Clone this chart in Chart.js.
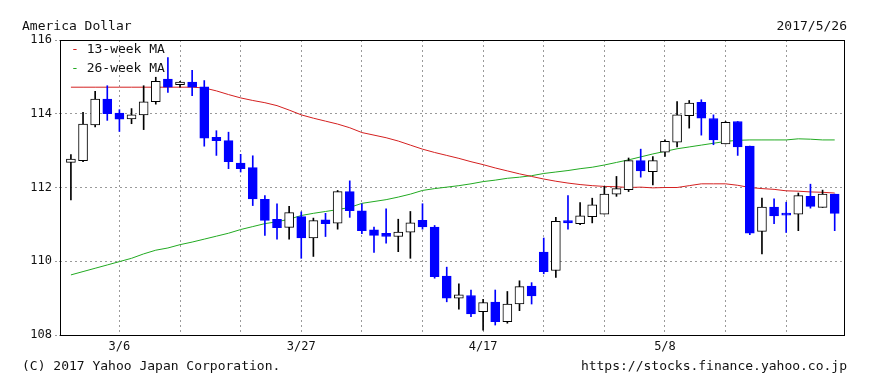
<!DOCTYPE html>
<html><head><meta charset="utf-8">
<script src="https://cdn.jsdelivr.net/npm/chart.js@4.4.1/dist/chart.umd.min.js"></script>
<style>
html,body{margin:0;padding:0;background:#fff;}
#wrap{position:relative;width:870px;height:386px;font-family:"DejaVu Sans Mono","Liberation Mono",monospace;font-size:13px;color:#111;}
canvas{position:absolute;left:0;top:0;}
.t{position:absolute;white-space:pre;line-height:14px;}
</style></head><body>
<div id="wrap">
<canvas id="c" width="870" height="386"></canvas>
<div class="t" style="left:22px;top:19px">America Dollar</div>
<div class="t" style="right:23px;top:19px">2017/5/26</div>
<div class="t" style="left:71px;top:42px"><span style="color:#d42020">-</span> 13-week MA</div>
<div class="t" style="left:71px;top:61px"><span style="color:#22aa22">-</span> 26-week MA</div>
<div class="t" style="left:22px;top:359px">(C) 2017 Yahoo Japan Corporation.</div>
<div class="t" style="right:23px;top:359px">https://stocks.finance.yahoo.co.jp</div>
</div>
<script>
const dates = ['2/28','3/1','3/2','3/3','3/6','3/7','3/8','3/9','3/10','3/13','3/14','3/15','3/16','3/17','3/20','3/21','3/22','3/23','3/24','3/27','3/28','3/29','3/30','3/31','4/3','4/4','4/5','4/6','4/7','4/10','4/11','4/12','4/13','4/14','4/17','4/18','4/19','4/20','4/21','4/24','4/25','4/26','4/27','4/28','5/1','5/2','5/3','5/4','5/5','5/8','5/9','5/10','5/11','5/12','5/15','5/16','5/17','5/18','5/19','5/22','5/23','5/24','5/25','5/26'];
const openV = [112.68,112.73,113.70,114.40,114.02,113.86,113.97,114.33,114.94,114.79,114.86,114.73,113.36,113.27,112.66,112.54,111.68,111.14,110.92,111.21,110.63,111.12,111.03,111.89,111.37,110.85,110.76,110.67,110.79,111.11,110.93,109.60,109.00,109.07,108.63,108.89,108.36,108.84,109.33,110.25,109.75,111.10,111.02,111.21,111.28,111.82,111.94,112.73,112.43,112.96,113.23,113.95,114.31,113.87,113.18,113.79,113.12,110.81,111.47,111.29,111.28,111.76,111.46,111.82];
const closeV = [112.77,113.72,114.40,114.00,113.85,113.97,114.32,114.88,114.72,114.86,114.72,113.34,113.27,112.70,112.51,111.69,111.11,110.91,111.32,110.63,111.10,111.02,111.89,111.37,110.83,110.70,110.67,110.79,111.04,110.93,109.58,109.00,109.09,108.57,108.88,108.36,108.84,109.31,109.06,109.72,111.08,111.04,111.23,111.53,111.82,111.97,112.73,112.45,112.73,113.25,113.97,114.29,113.88,113.29,113.77,113.10,110.76,111.47,111.23,111.25,111.78,111.49,111.82,111.30];
const highV = [112.89,114.04,114.61,114.76,114.11,114.14,114.76,114.99,115.52,114.88,115.18,114.90,113.54,113.50,112.90,112.86,111.78,111.56,111.49,111.34,111.17,111.30,111.92,112.18,111.56,110.93,111.42,111.14,111.35,111.56,110.97,109.84,109.39,109.22,108.97,109.22,109.18,109.47,109.42,110.63,111.19,111.78,111.59,111.71,112.03,112.30,112.80,113.04,112.84,113.29,114.33,114.36,114.38,113.97,113.79,113.79,113.12,111.71,111.69,111.60,111.85,112.09,111.93,111.82];
const lowV = [111.66,112.70,113.64,113.82,113.52,113.73,113.57,114.26,114.58,114.72,114.49,113.12,112.87,112.51,112.42,111.51,110.70,110.60,110.60,110.08,110.13,110.67,110.87,111.19,110.75,110.24,110.49,110.26,110.08,110.87,109.54,108.90,108.70,108.50,108.13,108.27,108.32,108.66,108.84,109.66,109.56,110.87,110.99,111.04,111.28,111.76,111.89,112.28,112.07,112.84,113.10,113.61,113.42,113.16,113.18,112.87,110.72,110.20,111.02,110.78,110.83,111.44,111.46,110.83];
const ma13 = [114.72,114.72,114.72,114.72,114.72,114.72,114.72,114.72,114.72,114.72,114.72,114.70,114.62,114.52,114.43,114.36,114.30,114.22,114.10,113.97,113.88,113.80,113.72,113.62,113.49,113.42,113.35,113.26,113.15,113.04,112.95,112.87,112.79,112.70,112.62,112.53,112.45,112.37,112.30,112.23,112.17,112.12,112.08,112.05,112.03,112.02,112.00,112.01,111.99,112.00,112.00,112.05,112.10,112.10,112.10,112.06,112.00,111.97,111.95,111.91,111.90,111.88,111.87,111.85];
const ma26 = [109.63,109.72,109.81,109.90,109.99,110.08,110.20,110.30,110.36,110.45,110.52,110.60,110.68,110.76,110.86,110.94,111.02,111.07,111.14,111.24,111.30,111.35,111.40,111.46,111.57,111.62,111.67,111.74,111.82,111.92,111.97,112.01,112.05,112.10,112.16,112.20,112.25,112.28,112.32,112.38,112.42,112.46,112.51,112.55,112.61,112.68,112.75,112.83,112.91,112.98,113.05,113.10,113.15,113.20,113.25,113.28,113.29,113.29,113.29,113.29,113.32,113.31,113.29,113.29];
const xTickLabels = ['3/6','3/27','4/17','5/8'];
const yTicks = [108,110,112,114,116];

const FONT = {family:'"DejaVu Sans Mono","Liberation Mono",monospace', size:12};
const BLUE = '#0000ff';
const up = dates.map((d,i)=>closeV[i] >= openV[i]);
const weekStarts = dates.map((d,i)=>i).filter(i=>i>=4 && (i-4)%5===0);

const framePlugin = {
  id:'frame',
  afterDraw(chart){
    const a = chart.chartArea, c = chart.ctx;
    c.save(); c.strokeStyle='#000'; c.lineWidth=1;
    c.strokeRect(Math.round(a.left)+0.5, Math.round(a.top)+0.5, Math.round(a.right-a.left)-1, Math.round(a.bottom-a.top));
    c.restore();
  }
};

new Chart(document.getElementById('c'), {
  type:'bar',
  data:{datasets:[
    {type:'bar', label:'body', order:0, grouped:false, barThickness:9, minBarLength:2,
     data: dates.map((d,i)=>({x:i, y:[openV[i], closeV[i]]})),
     backgroundColor: up.map(u=>u?'#ffffff':BLUE), borderColor: up.map(u=>u?'#000000':BLUE),
     borderWidth:1, borderSkipped:false},
    {type:'bar', label:'wick', order:1, grouped:false, barThickness:1,
     data: dates.map((d,i)=>({x:i, y:[lowV[i], highV[i]]})),
     backgroundColor: up.map(u=>u?'#000000':BLUE), borderWidth:0},
    {type:'line', label:'13-week MA', order:2, data: dates.map((d,i)=>({x:i,y:ma13[i]})),
     borderColor:'#d42020', borderWidth:1, pointRadius:0, tension:0},
    {type:'line', label:'26-week MA', order:3, data: dates.map((d,i)=>({x:i,y:ma26[i]})),
     borderColor:'#22aa22', borderWidth:1, pointRadius:0, tension:0}
  ]},
  options:{
    responsive:false, animation:false, events:[],
    layout:{padding:{top:40,right:25,left:0,bottom:0}},
    plugins:{legend:{display:false}, tooltip:{enabled:false}},
    scales:{
      x:{type:'linear', min:-0.9, max:63.85, offset:false,
         afterBuildTicks:s=>{ s.ticks = weekStarts.map(v=>({value:v})); },
         afterFit:s=>{ s.height = 51; },
         ticks:{autoSkip:false, maxRotation:0, padding:5, font:FONT, color:'#111',
                callback:v=> xTickLabels.includes(dates[v]) ? dates[v] : ''},
         grid:{color:'#9a9a9a', drawTicks:false, offset:false},
         border:{display:false, dash:[2,3]}},
      y:{type:'linear', min:108, max:116,
         afterBuildTicks:s=>{ s.ticks = yTicks.map(v=>({value:v})); },
         afterFit:s=>{ s.width = 60; },
         ticks:{padding:3, font:FONT, color:'#111'},
         grid:{color:'#9a9a9a', tickLength:5, tickBorderDash:[2,2]},
         border:{display:false, dash:[2,3]}}
    }
  },
  plugins:[framePlugin]
});
</script>
</body></html>
